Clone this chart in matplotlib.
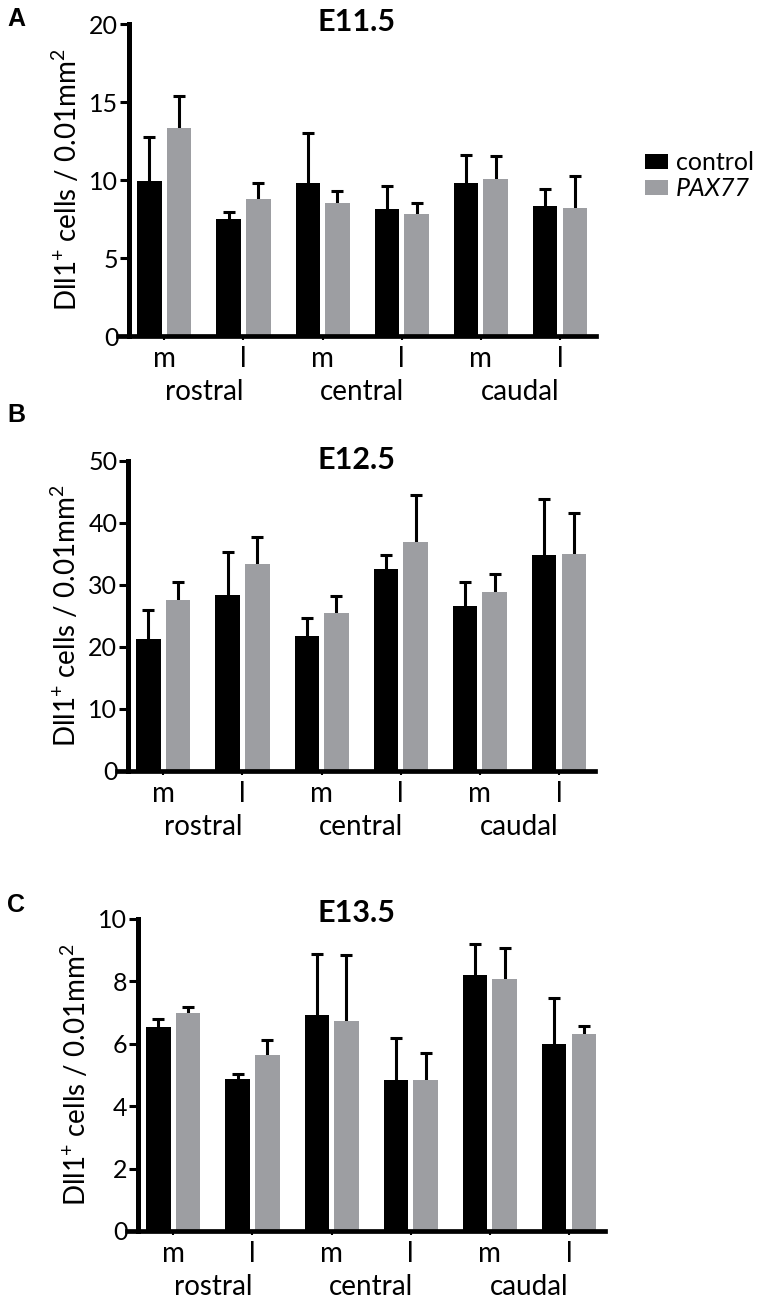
import numpy as np
import matplotlib
matplotlib.use("Agg")
import matplotlib.pyplot as plt
from matplotlib.transforms import blended_transform_factory

plt.rcParams['font.family'] = ['Lato', 'DejaVu Sans']
plt.rcParams['mathtext.default'] = 'regular'

regions = ['rostral', 'central', 'caudal']
sides = ['m', 'l', 'm', 'l', 'm', 'l']

# E11.5
e115_control = [9.95, 7.48, 9.83, 8.14, 9.83, 8.31]
e115_control_err = [2.81, 0.45, 3.17, 1.49, 1.75, 1.13]
e115_pax = [13.35, 8.78, 8.55, 7.84, 10.06, 8.18]
e115_pax_err = [2.05, 1.05, 0.76, 0.66, 1.48, 2.08]

# E12.5
e125_control = [21.3, 28.4, 21.8, 32.6, 26.6, 34.8]
e125_control_err = [4.7, 7.0, 2.8, 2.3, 3.9, 9.1]
e125_pax = [27.6, 33.4, 25.5, 36.9, 28.9, 35.0]
e125_pax_err = [2.9, 4.3, 2.8, 7.6, 2.8, 6.6]

# E13.5
e135_control = [6.54, 4.87, 6.92, 4.83, 8.19, 5.99]
e135_control_err = [0.26, 0.17, 1.96, 1.37, 1.0, 1.48]
e135_pax = [7.0, 5.64, 6.72, 4.84, 8.07, 6.32]
e135_pax_err = [0.18, 0.47, 2.13, 0.87, 1.0, 0.24]

black = '#000000'
grey = '#9d9ea2'
W, H = 757, 1300

fig = plt.figure(figsize=(W / 100, H / 100), dpi=100)

def px_axes(left, right, top, bottom):
    return fig.add_axes([left / W, 1 - bottom / H, (right - left) / W, (bottom - top) / H])

panels = [
    ('A', 'E11.5', (118, 596, 24, 336), 20, 5, e115_control, e115_control_err, e115_pax, e115_pax_err, 26, 31),
    ('B', 'E12.5', (117, 595, 461, 771), 50, 10, e125_control, e125_control_err, e125_pax, e125_pax_err, 422, 469),
    ('C', 'E13.5', (127, 605, 919, 1231), 10, 2, e135_control, e135_control_err, e135_pax, e135_pax_err, 912, 922),
]

x = np.arange(len(sides))
bw = 0.31
off = 0.187
handles = None

for letter, title, box, ymax, step, ctl, ctl_err, pax, pax_err, let_y, tit_y in panels:
    ax = px_axes(*box)
    b1 = ax.bar(x - off, ctl, bw, color=black, zorder=2)
    b2 = ax.bar(x + off, pax, bw, color=grey, zorder=2)
    if handles is None:
        handles = [b1, b2]
    for xs, vals, errs in [(x - off, ctl, ctl_err), (x + off, pax, pax_err)]:
        eb = ax.errorbar(xs, vals, yerr=[np.zeros(len(errs)), errs], fmt='none',
                         ecolor='black', elinewidth=2.2, capsize=4, capthick=2.2,
                         zorder=1, clip_on=False)
        eb[1][0].set_visible(False)
        for c in eb[1]:
            c.set_clip_on(False)
        for c in eb[2]:
            c.set_clip_on(False)

    ax.set_xlim(-0.585, 5.455)
    ax.set_ylim(0, ymax)
    ax.set_yticks(np.arange(0, ymax + step / 2, step))
    ax.set_xticks(x)
    ax.set_xticklabels(sides)
    for s in ['top', 'right']:
        ax.spines[s].set_visible(False)
    ax.spines['left'].set_position(('data', -0.44))
    ax.spines['left'].set_linewidth(3.6)
    ax.spines['bottom'].set_linewidth(3.4)
    ax.tick_params(axis='y', length=6.5, width=2.2, pad=1.5, labelsize=18, direction='out')
    ax.tick_params(axis='x', length=3, width=1.5, pad=4.5, labelsize=20, direction='out')

    tr = blended_transform_factory(ax.transData, ax.transAxes)
    for i, reg in enumerate(regions):
        ax.annotate(reg, xy=(2 * i + 0.5, 0), xycoords=tr, xytext=(0, -46),
                    textcoords='offset points', ha='center', va='baseline', fontsize=20)

    ax.set_ylabel('Dll1$^{+}$ cells / 0.01mm$^{2}$', fontsize=20)
    ax.yaxis.set_label_coords(-0.075, 0.5)

    fig.text(357 / W, 1 - tit_y / H, title, ha='center', va='baseline',
             fontsize=22, fontweight='bold')
    fig.text(7 / W, 1 - let_y / H, letter, ha='left', va='baseline',
             fontsize=18, fontweight='bold', family=['Liberation Sans', 'DejaVu Sans'])

leg = fig.legend(handles, ['control', 'PAX77'], loc='center left',
                 bbox_to_anchor=(645 / W, 1 - 176 / H), frameon=False,
                 fontsize=18, handlelength=0.92, handleheight=0.56,
                 handletextpad=0.32, labelspacing=0.12, borderpad=0, borderaxespad=0)
leg.get_texts()[1].set_style('italic')

fig.savefig('out.png', dpi=100)
